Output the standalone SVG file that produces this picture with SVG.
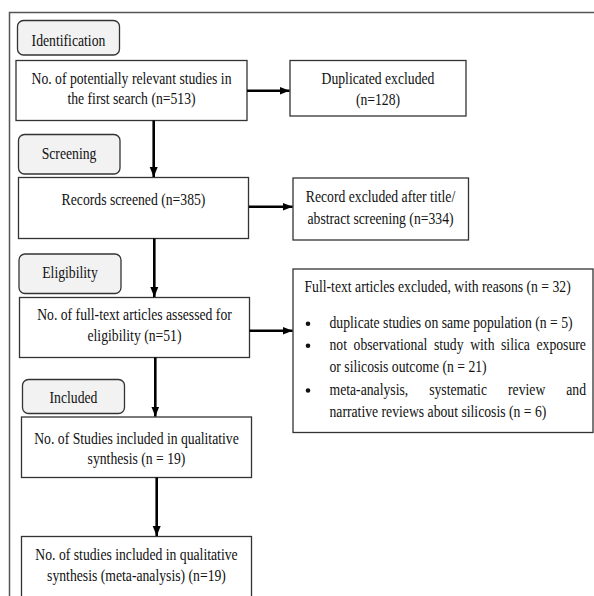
<svg xmlns="http://www.w3.org/2000/svg" width="594" height="596" viewBox="0 0 594 596">
<defs>
<marker id="ah" markerUnits="userSpaceOnUse" markerWidth="10" markerHeight="10" viewBox="0 0 10 10" refX="10" refY="5" orient="auto">
<path d="M0,1 L10,5 L0,9 Z" fill="#000"/>
</marker>
<style>
.frame{fill:none;stroke:#555;stroke-width:1.5}
.box{fill:#fff;stroke:#333;stroke-width:1.3}
.tab{fill:#f2f2f2;stroke:#333;stroke-width:1.3}
text{font-family:"Liberation Serif","Times New Roman",serif;font-size:16.5px;fill:#111}
.c{text-anchor:middle}
.conn{stroke:#000;stroke-width:2.6;fill:none;marker-end:url(#ah)}
</style>
</defs>
<rect width="594" height="596" fill="#fff"/>
<path class="frame" d="M9.5,600 V12.5 H600"/>

<g id="tab-identification">
<rect class="tab" x="17.5" y="20.5" width="102" height="34.5" rx="6"/>
<text class="c" transform="translate(68.5,45.5) scale(0.83 1)">Identification</text>
</g>
<g id="box-search">
<rect class="box" x="16" y="60.5" width="231" height="60"/>
<text class="c" transform="translate(131.5,83.5) scale(0.83 1)">No. of potentially relevant studies in</text>
<text class="c" transform="translate(131.5,103.5) scale(0.83 1)">the first search (n=513)</text>
</g>
<g id="box-duplicated">
<rect class="box" x="290" y="60.5" width="176" height="55.5"/>
<text class="c" transform="translate(378,83.5) scale(0.83 1)">Duplicated excluded</text>
<text class="c" transform="translate(378,105) scale(0.83 1)">(n=128)</text>
</g>

<g id="tab-screening">
<rect class="tab" x="18.5" y="134.5" width="101.5" height="39.5" rx="6"/>
<text class="c" transform="translate(69,159) scale(0.83 1)">Screening</text>
</g>
<g id="box-screened">
<rect class="box" x="18.5" y="177.5" width="230" height="61"/>
<text class="c" transform="translate(133.5,205) scale(0.83 1)">Records screened (n=385)</text>
</g>
<g id="box-record-excluded">
<rect class="box" x="293" y="178" width="175.5" height="62"/>
<text class="c" transform="translate(380.5,202) scale(0.83 1)">Record excluded after title/</text>
<text class="c" transform="translate(380.5,223.5) scale(0.83 1)">abstract screening (n=334)</text>
</g>

<g id="tab-eligibility">
<rect class="tab" x="19" y="254" width="102" height="39.5" rx="6"/>
<text class="c" transform="translate(70,277.5) scale(0.83 1)">Eligibility</text>
</g>
<g id="box-fulltext">
<rect class="box" x="19.5" y="297.5" width="230" height="60"/>
<text class="c" transform="translate(134.5,320) scale(0.83 1)">No. of full-text articles assessed for</text>
<text class="c" transform="translate(134.5,341) scale(0.83 1)">eligibility (n=51)</text>
</g>
<g id="box-fulltext-excluded">
<rect class="box" x="293" y="269" width="300" height="163.5"/>
<text transform="translate(304.5,292) scale(0.83 1)">Full-text articles excluded, with reasons (n = 32)</text>
<circle cx="308" cy="323.7" r="2.3" fill="#111"/>
<circle cx="308" cy="345.7" r="2.3" fill="#111"/>
<circle cx="308" cy="390.5" r="2.3" fill="#111"/>
<text transform="translate(329.5,327.5) scale(0.83 1)">duplicate studies on same population (n = 5)</text>
<text transform="translate(329.5,349.5) scale(0.83 1)" word-spacing="3.8">not observational study with silica exposure</text>
<text transform="translate(329.5,372) scale(0.83 1)">or silicosis outcome (n = 21)</text>
<text transform="translate(329.5,394.5) scale(0.83 1)"><tspan x="0">meta-analysis,</tspan><tspan x="120.1">systematic</tspan><tspan x="215.1">review</tspan><tspan x="285.3">and</tspan></text>
<text transform="translate(329.5,416.5) scale(0.83 1)">narrative reviews about silicosis (n = 6)</text>
</g>

<g id="tab-included">
<rect class="tab" x="22.5" y="379.5" width="102" height="34" rx="6"/>
<text class="c" transform="translate(73.5,403) scale(0.83 1)">Included</text>
</g>
<g id="box-qualitative">
<rect class="box" x="21.5" y="417" width="230" height="60.5"/>
<text class="c" transform="translate(136.5,443.5) scale(0.83 1)">No. of Studies included in qualitative</text>
<text class="c" transform="translate(136.5,463.5) scale(0.83 1)">synthesis (n = 19)</text>
</g>
<g id="box-meta">
<rect class="box" x="21.5" y="536.5" width="230" height="70"/>
<text class="c" transform="translate(136.5,560) scale(0.83 1)">No. of studies included in qualitative</text>
<text class="c" transform="translate(136.5,580.5) scale(0.83 1)">synthesis (meta-analysis) (n=19)</text>
</g>

<g id="connectors">
<line class="conn" x1="247" y1="90.7" x2="289.5" y2="90.7"/>
<line class="conn" x1="249" y1="206.7" x2="292.5" y2="206.7"/>
<line class="conn" x1="249.5" y1="330.7" x2="292.5" y2="330.7"/>
<line class="conn" x1="153.7" y1="120.5" x2="153.7" y2="177"/>
<line class="conn" x1="154.3" y1="238.5" x2="154.3" y2="297"/>
<line class="conn" x1="155.3" y1="357.5" x2="155.3" y2="416.5"/>
<line class="conn" x1="156.7" y1="477.5" x2="156.7" y2="536"/>
</g>
</svg>
